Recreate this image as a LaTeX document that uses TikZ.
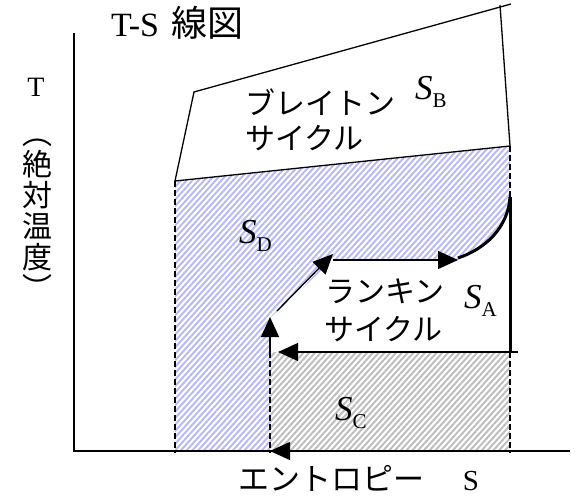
\documentclass[tikz,border=0pt]{standalone}
\usepackage{fontspec}
\setmainfont{Liberation Serif}
\newfontfamily\jp{Noto Sans CJK JP}
\usetikzlibrary{arrows.meta,patterns.meta}
\definecolor{hatchblue}{RGB}{185,185,245}
\definecolor{hatchgray}{RGB}{190,190,190}
\tikzset{
  thinline/.style={line width=1.3pt},
  dashline/.style={line width=1.3pt,dash pattern=on 6pt off 3pt},
  thickline/.style={line width=3pt},
  bigarrow/.style={line width=1.3pt,-{Triangle[length=20pt,width=18pt]}},
  jptext/.style={inner sep=0pt,font=\jp\fontsize{30}{36}\selectfont},
  lattext/.style={inner sep=0pt},
  bluehatch/.style={pattern={Lines[angle=48,distance=4.3pt,line width=2pt]},pattern color=hatchblue},
  grayhatch/.style={pattern={Lines[angle=48,distance=4.3pt,line width=2pt]},pattern color=hatchgray}
}
\newcommand{\Sarea}[1]{{\fontsize{35}{35}\selectfont\itshape S}\raisebox{-8pt}{\fontsize{21}{21}\selectfont #1}}
\begin{document}
\begin{tikzpicture}[x=1pt,y=-1pt]
\useasboundingbox (0,0) rectangle (575,497);
% key points
\coordinate (bl) at (175,181);
\coordinate (br) at (510,146);
\coordinate (tl) at (194,92);
\coordinate (tr) at (511,4);
\coordinate (rtop) at (500,5);
\coordinate (cTop) at (510,197);
\coordinate (cEnd) at (458,260);
\coordinate (hStart) at (333,260);
\coordinate (dTip) at (333,254);
\coordinate (dStart) at (277,311);
\coordinate (vTip) at (270,317);
\coordinate (pumpB) at (270,352);
\coordinate (condR) at (518,352);
\coordinate (condTip) at (278,352);
\coordinate (sR) at (510,352);
% hatched areas
\fill[bluehatch] (175,181) -- (510,146) -- (510,197) .. controls (508,228) and (485,248) .. (458,260) -- (333,260) -- (270,318) -- (270,451) -- (175,451) -- cycle;
\fill[grayhatch] (270,352) rectangle (510,451);
% axes
\coordinate (ytop) at (74,33);
\coordinate (origin) at (74,451);
\coordinate (xend) at (570,451);
\draw[thinline] (ytop) -- (origin) -- (xend);
% dashed lines
\draw[dashline] (bl) -- (175,453);
\draw[dashline] (br) -- (cTop);
\draw[dashline] (sR) -- (510,453);
\draw[dashline] (pumpB) -- (270,453);
% Brayton cycle
\draw[thinline] (bl) -- (tl) -- (tr);
\draw[thinline] (rtop) -- (br);
\draw[thinline] (bl) -- (br);
% Rankine cycle
\draw[thickline] (cTop) -- (sR);
\draw[bigarrow] (condR) -- (condTip);
\draw[bigarrow] (pumpB) -- (vTip);
\draw[bigarrow] (dStart) -- (dTip);
\draw[bigarrow] (hStart) -- (cEnd);
\draw[thickline] (458,258) .. controls (485,249) and (508,228) .. (cTop);
% arrow on the S axis
\coordinate (axA) at (292,451);
\coordinate (axTip) at (270,451);
\draw[bigarrow] (axA) -- (axTip);
% texts
\node[lattext,anchor=base west] (title) at (111,37) {\fontsize{34}{34}\selectfont T-S\hspace{12pt}{\jp\fontsize{36}{36}\selectfont 線図}};
\node[lattext,anchor=base] (tlabel) at (36,97) {\fontsize{28}{28}\selectfont T};
\node[jptext,align=center,font=\jp\fontsize{30}{31}\selectfont] (vlabel) at (37,219) {︵\\絶\\対\\温\\度\\︶};
\node[jptext,anchor=west] (bray1) at (245,102) {ブレイトン};
\node[jptext,anchor=west] (bray2) at (245,138) {サイクル};
\node[jptext,anchor=west] (rank1) at (325,291) {ランキン};
\node[jptext,anchor=west] (rank2) at (324,329) {サイクル};
\node[jptext,anchor=west,font=\jp\fontsize{31}{36}\selectfont] (entropy) at (238,478) {エントロピー};
\node[lattext,anchor=base] (slabel) at (471,490) {\fontsize{29}{29}\selectfont S};
\node[lattext,anchor=base west] (SB) at (415,100) {\Sarea{B}};
\node[lattext,anchor=base west] (SD) at (239,243) {\Sarea{D}};
\node[lattext,anchor=base west] (SA) at (464,308) {\Sarea{A}};
\node[lattext,anchor=base west] (SC) at (335,420) {\Sarea{C}};
\end{tikzpicture}
\end{document}
